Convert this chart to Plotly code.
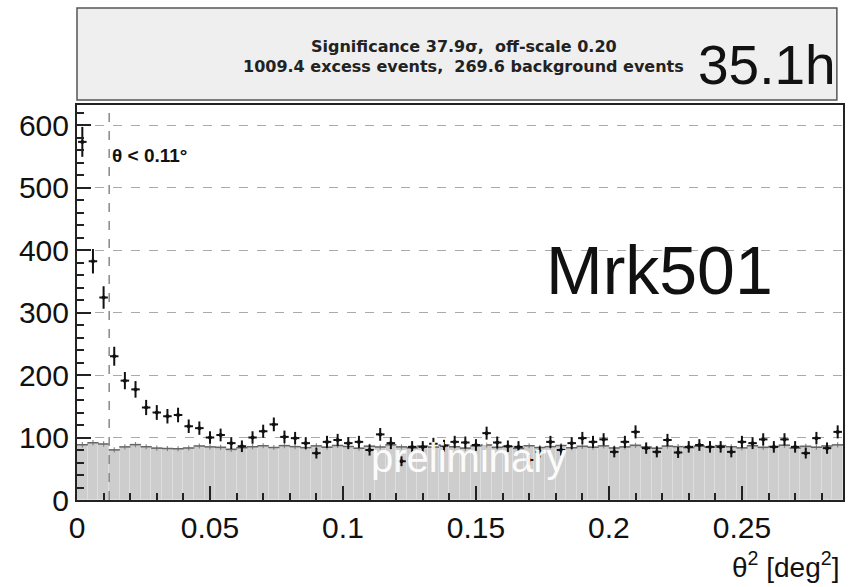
import numpy as np
import plotly.graph_objects as go

# theta^2 histogram: 72 bins of 0.004 deg^2
bin_width = 0.004
n_bins = 72
theta2_centers = (np.arange(n_bins) + 0.5) * bin_width

# ON-source event counts per bin
on_counts = [
    573, 382, 324, 230, 191, 177, 148, 140, 134, 136,
    118, 115, 100, 104, 91, 86, 100, 110, 121, 101,
    99, 91, 75, 93, 96, 91, 93, 80, 105, 91,
    62, 85, 85, 90, 87, 93, 92, 88, 107, 92,
    86, 85, 64, 77, 93, 80, 91, 99, 93, 97,
    77, 93, 109, 83, 77, 96, 76, 85, 88, 85,
    85, 77, 93, 91, 97, 85, 97, 85, 75, 99,
    83, 109,
]

# OFF-source counts scaled by off-scale factor 0.20
off_scale = 0.20
bg_counts = [
    88.4, 91.6, 89.6, 80.2, 85.0, 88.6, 85.2, 83.0, 82.4, 82.0,
    83.2, 86.4, 85.0, 84.2, 81.0, 83.6, 85.2, 86.8, 84.0, 87.0,
    85.4, 83.8, 86.6, 84.4, 87.2, 85.6, 82.8, 86.0, 84.8, 88.2,
    85.0, 83.4, 86.2, 84.6, 87.8, 85.2, 83.0, 86.4, 88.0, 84.2,
    85.6, 82.6, 86.8, 84.0, 85.4, 87.2, 83.6, 85.8, 84.4, 86.6,
    83.2, 85.0, 87.4, 84.8, 82.8, 86.2, 85.4, 83.8, 86.0, 84.6,
    87.0, 85.2, 83.4, 86.8, 84.2, 85.6, 87.6, 83.0, 85.8, 84.4,
    86.4, 88.2,
]

x_ticks = [0, 0.05, 0.1, 0.15, 0.2, 0.25]
x_ticklabels = ["0", "0.05", "0.1", "0.15", "0.2", "0.25"]
theta_cut = 0.11  # deg

on_err = np.sqrt(np.array(on_counts, dtype=float))
bg_err = np.sqrt(np.array(bg_counts) / off_scale) * off_scale

FONT = "Liberation Sans, Arial, sans-serif"
WIDE = "DejaVu Sans, Liberation Sans, sans-serif"

fig = go.Figure()

# background (scaled OFF) histogram
fig.add_trace(go.Bar(
    x=theta2_centers, y=bg_counts, width=bin_width,
    marker=dict(color="#cdcdcd", line=dict(color="#dedede", width=1)),
    hoverinfo="skip", showlegend=False,
))
fig.add_trace(go.Scatter(
    x=theta2_centers, y=bg_counts, mode="markers",
    marker=dict(symbol="line-ew", size=8, line=dict(color="#666", width=1.5)),
    error_y=dict(type="data", array=bg_err, color="#888", thickness=1.2, width=0),
    hoverinfo="skip", showlegend=False,
))

# ON data points
fig.add_trace(go.Scatter(
    x=theta2_centers, y=on_counts, mode="markers",
    marker=dict(color="#111", size=4),
    error_y=dict(type="data", array=on_err, color="#111", thickness=2, width=0),
    error_x=dict(type="constant", value=0.0016, color="#111", thickness=2, width=0),
    hoverinfo="skip", showlegend=False,
))

# theta^2 cut line
fig.add_shape(type="line", xref="x", yref="paper",
              x0=theta_cut**2, x1=theta_cut**2, y0=0, y1=1,
              line=dict(color="#888", width=1.5, dash="dash"), layer="above")

# statistics box above the plot
fig.add_shape(type="rect", xref="paper", yref="paper",
              x0=0, x1=0.992, y0=1.0127, y1=1.2456,
              fillcolor="#efefef", line=dict(color="#555", width=1.5))

annotations = [
    dict(text="<b>Significance 37.9σ,  off-scale 0.20</b>", x=0.505, y=1.148,
         font=dict(size=16, color="#222", family=WIDE)),
    dict(text="<b>1009.4 excess events,  269.6 background events</b>", x=0.504, y=1.0987,
         font=dict(size=16, color="#222", family=WIDE)),
    dict(text="35.1h", x=0.9935, y=1.101, xanchor="right",
         font=dict(size=55, color="#111")),
    dict(text="Mrk501", x=0.760, y=0.582, font=dict(size=68, color="#111")),
    dict(text="<b>θ < 0.11°</b>", x=0.043, y=0.873, xanchor="left",
         font=dict(size=19, color="#111")),
    dict(text="preliminary", x=0.512, y=0.106,
         font=dict(size=40, color="rgba(255,255,255,0.95)")),
    dict(text="θ<sup>2</sup> [deg<sup>2</sup>]", x=0.997, y=-0.165, xanchor="right",
         font=dict(size=28, color="#111")),
]
for a in annotations:
    a.setdefault("xanchor", "center")
    a["font"].setdefault("family", FONT)
    fig.add_annotation(xref="paper", yref="paper", yanchor="middle",
                       showarrow=False, **a)

fig.update_layout(
    width=848, height=587,
    margin=dict(l=77, r=3, t=105, b=87),
    paper_bgcolor="white", plot_bgcolor="white",
    bargap=0, barmode="overlay",
    font=dict(family=FONT, color="#111"),
)
fig.update_xaxes(
    range=[0, n_bins * bin_width], tickvals=x_ticks, ticktext=x_ticklabels,
    ticks="inside", ticklen=14, tickwidth=1.5, tickcolor="#222",
    minor=dict(dtick=0.01, ticks="inside", ticklen=7, tickcolor="#222"),
    showline=True, linecolor="#222", linewidth=2, mirror=True,
    showgrid=False, zeroline=False, tickfont=dict(size=30),
)
fig.update_yaxes(
    range=[0, 632], dtick=100,
    ticks="inside", ticklen=14, tickwidth=1.5, tickcolor="#222",
    minor=dict(dtick=20, ticks="inside", ticklen=7, tickcolor="#222"),
    showline=True, linecolor="#222", linewidth=2, mirror=True,
    showgrid=True, gridcolor="#aaa", griddash="dash", gridwidth=1,
    zeroline=False, tickfont=dict(size=30),
)

fig.write_html("out.html")
